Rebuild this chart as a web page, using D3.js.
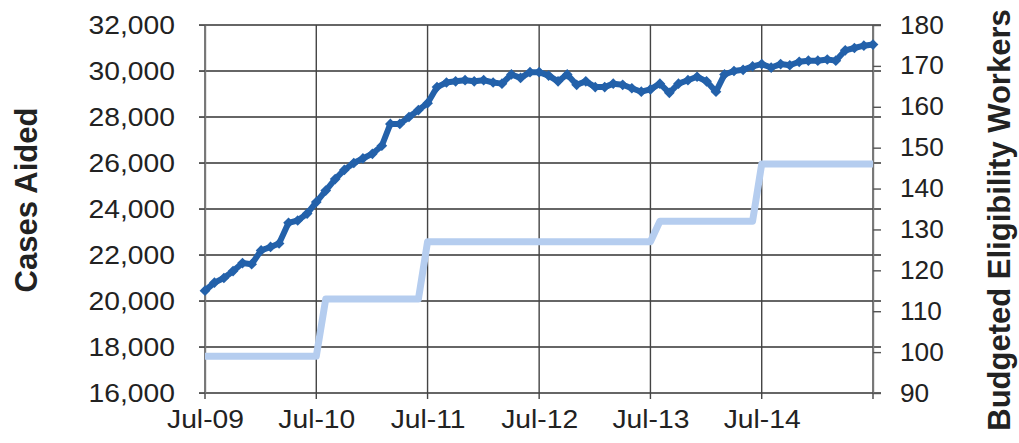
<!DOCTYPE html>
<meta charset="utf-8">
<script src="https://d3js.org/d3.v7.min.js"></script>
<style>
  body { margin: 0; background: #fff; }
  text { font-family: "Liberation Sans", Arial, sans-serif; fill: #222; }
</style>
<div id="chart"></div>
<script>
// monthly data, Jul-09 .. Jul-15
var startMonth = new Date(2009, 6, 1);
var casesAided = [
  20450, 20800, 21000, 21300, 21650, 21600, 22200, 22350, 22500, 23400, 23500, 23800,
  24300, 24800, 25300, 25700, 26000, 26200, 26400, 26750, 27700, 27700, 28000, 28300,
  28600, 29300, 29500, 29550, 29600, 29550, 29600, 29500, 29450, 29850, 29700, 29950,
  29950, 29800, 29550, 29850, 29400, 29550, 29300, 29300, 29450, 29400, 29250, 29100,
  29200, 29450, 29050, 29450, 29600, 29750, 29550, 29100, 29850, 30000, 30050, 30200,
  30300, 30150, 30300, 30250, 30400, 30450, 30450, 30500, 30450, 30900, 31000, 31100,
  31150
];
var workers = [
  99, 99, 99, 99, 99, 99, 99, 99, 99, 99, 99, 99,
  99, 113, 113, 113, 113, 113, 113, 113, 113, 113, 113, 113,
  127, 127, 127, 127, 127, 127, 127, 127, 127, 127, 127, 127,
  127, 127, 127, 127, 127, 127, 127, 127, 127, 127, 127, 127,
  127, 132, 132, 132, 132, 132, 132, 132, 132, 132, 132, 132,
  146, 146, 146, 146, 146, 146, 146, 146, 146, 146, 146, 146,
  146
];
var xTickLabels = ["Jul-09", "Jul-10", "Jul-11", "Jul-12", "Jul-13", "Jul-14", ""];
var leftTicks = [16000, 18000, 20000, 22000, 24000, 26000, 28000, 30000, 32000];
var rightTicks = [90, 100, 110, 120, 130, 140, 150, 160, 170, 180];

var W = 1019, H = 443;
var margin = {top: 25, right: 146, bottom: 50, left: 205};
var width = W - margin.left - margin.right,
    height = H - margin.top - margin.bottom;

var svg = d3.select("#chart").append("svg")
    .attr("width", W).attr("height", H)
  .append("g")
    .attr("transform", "translate(" + margin.left + "," + margin.top + ")");

var months = casesAided.map(function(d, i) { return d3.timeMonth.offset(startMonth, i); });
var xTicks = xTickLabels.map(function(d, i) { return d3.timeMonth.offset(startMonth, 12 * i); });

var x = d3.scaleTime()
    .domain([startMonth, xTicks[xTicks.length - 1]])
    .range([0, width]);
var yL = d3.scaleLinear().domain([16000, 32000]).range([height, 0]);
var yR = d3.scaleLinear().domain([90, 180]).range([height, 0]);

// widen the labels a bit, the scanned font is wider than Arial
function stretch(sel, k) {
  sel.each(function() {
    var w = this.getComputedTextLength();
    if (w > 0) d3.select(this).attr("textLength", w * k).attr("lengthAdjust", "spacingAndGlyphs");
  });
}

// gridlines
svg.append("g").selectAll("line").data(leftTicks).join("line")
  .attr("x1", -6).attr("x2", width + 8)
  .attr("y1", function(d) { return yL(d); }).attr("y2", function(d) { return yL(d); })
  .attr("stroke", "#333").attr("stroke-width", 1.4);
svg.append("g").selectAll("line").data(xTicks).join("line")
  .attr("x1", function(d) { return x(d); }).attr("x2", function(d) { return x(d); })
  .attr("y1", 0).attr("y2", height + 6)
  .attr("stroke", "#444").attr("stroke-width", 1.4);

// right axis
var rAxis = svg.append("g")
  .attr("transform", "translate(" + width + ",0)")
  .call(d3.axisRight(yR).tickValues(rightTicks).tickSize(8).tickSizeOuter(0).tickPadding(19));
rAxis.select(".domain").attr("stroke", "#777").attr("stroke-width", 1.4);
rAxis.selectAll(".tick line").attr("stroke", "#555").attr("stroke-width", 1.4);
rAxis.selectAll(".tick text").attr("font-size", 25).attr("fill", "#222")
  .call(stretch, 1.05);

// left axis labels
var lAxis = svg.append("g")
  .call(d3.axisLeft(yL).tickValues(leftTicks).tickSize(6).tickSizeOuter(0).tickPadding(24)
    .tickFormat(d3.format(",")));
lAxis.select(".domain").attr("stroke", "#777").attr("stroke-width", 1.4);
lAxis.selectAll(".tick line").attr("stroke", "#555");
lAxis.selectAll(".tick text").attr("font-size", 25).attr("fill", "#222")
  .call(stretch, 1.13);

// bottom axis labels
var bAxis = svg.append("g")
  .attr("transform", "translate(0," + height + ")")
  .call(d3.axisBottom(x).tickValues(xTicks).tickSize(0).tickPadding(17)
    .tickFormat(function(d, i) { return xTickLabels[i]; }));
bAxis.select(".domain").remove();
bAxis.selectAll(".tick text").attr("font-size", 25).attr("fill", "#222")
  .call(stretch, 1.13);

// lines
var lineW = d3.line()
  .x(function(d, i) { return x(months[i]); })
  .y(function(d) { return yR(d); });
svg.append("path").datum(workers)
  .attr("fill", "none").attr("stroke", "#b5cdef").attr("stroke-width", 7)
  .attr("stroke-linejoin", "round").attr("d", lineW);

var lineC = d3.line()
  .x(function(d, i) { return x(months[i]); })
  .y(function(d) { return yL(d); });
svg.append("path").datum(casesAided)
  .attr("fill", "none").attr("stroke", "#2361aa").attr("stroke-width", 6)
  .attr("stroke-linejoin", "round").attr("d", lineC);
svg.append("g").selectAll("rect").data(casesAided).join("rect")
  .attr("x", -3.8).attr("y", -3.8).attr("width", 7.6).attr("height", 7.6)
  .attr("fill", "#2361aa")
  .attr("transform", function(d, i) {
    return "translate(" + x(months[i]) + "," + yL(d) + ") rotate(45)";
  });

// axis titles
svg.append("text")
  .attr("transform", "translate(" + (-168) + "," + 175 + ") rotate(-90)")
  .attr("text-anchor", "middle").attr("font-size", 31).attr("font-weight", "bold")
  .text("Cases Aided");
svg.append("text")
  .attr("transform", "translate(" + (width + 137) + "," + 195 + ") rotate(-90)")
  .attr("text-anchor", "middle").attr("font-size", 31).attr("font-weight", "bold")
  .text("Budgeted Eligibility Workers");
</script>
